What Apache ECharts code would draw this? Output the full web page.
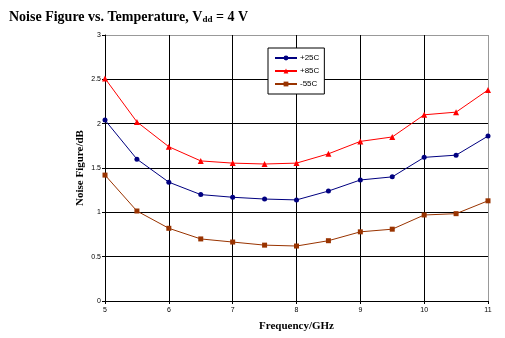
<!DOCTYPE html>
<html><head><meta charset="utf-8">
<script src="https://cdn.jsdelivr.net/npm/echarts@6/dist/echarts.min.js"></script>
<style>html,body{margin:0;padding:0;background:#fff}#c{width:505px;height:338px}</style>
</head><body><div id="c"></div>
<script>
const freq = [5, 5.5, 6, 6.5, 7, 7.5, 8, 8.5, 9, 9.5, 10, 10.5, 11];
const nf25 = [2.04, 1.60, 1.34, 1.20, 1.17, 1.15, 1.14, 1.24, 1.365, 1.40, 1.62, 1.645, 1.86];
const nf85 = [2.51, 2.02, 1.74, 1.58, 1.555, 1.545, 1.555, 1.66, 1.80, 1.85, 2.10, 2.13, 2.38];
const nfm55 = [1.42, 1.015, 0.82, 0.70, 0.665, 0.63, 0.62, 0.68, 0.78, 0.81, 0.97, 0.985, 1.13];
const seriesNames = ['+25C', '+85C', '-55C'];
const pair = arr => freq.map((f, i) => [f, arr[i]]);

const chart = echarts.init(document.getElementById('c'));
const gridColX = ['#000','#000','#000','#000','#000','#000','#999'];
const gridColY = ['#000','#000','#000','#000','#000','#000','#999'];
chart.setOption({
  animation: false,
  backgroundColor: '#fff',
  title: {
    text: '{a|Noise Figure vs. Temperature, V}{s|dd}{a| = 4 V}',
    left: 4, top: 5,
    textStyle: {
      rich: {
        a: {fontFamily: 'Liberation Serif', fontWeight: 'bold', fontSize: 14, color: '#000'},
        s: {fontFamily: 'Liberation Serif', fontWeight: 'bold', fontSize: 9, color: '#000', verticalAlign: 'bottom', padding: [5,0,0,0]}
      }
    }
  },
  legend: {
    orient: 'vertical',
    left: 268, top: 48,
    width: 54,
    padding: [6, 5, 6, 6],
    itemGap: 5,
    itemWidth: 22, itemHeight: 6,
    borderColor: '#000', borderWidth: 1, backgroundColor: '#fff',
    textStyle: {fontFamily: 'Liberation Sans', fontSize: 8, color: '#000', padding: [0,0,0,-2]},
    data: seriesNames
  },
  grid: {left: 105, right: 17, top: 35, bottom: 37, show: false},
  xAxis: {
    type: 'value', min: 5, max: 11, interval: 1,
    name: 'Frequency/GHz', nameLocation: 'middle', nameGap: 20,
    nameTextStyle: {fontFamily: 'Liberation Serif', fontWeight: 'bold', fontSize: 11, color: '#000'},
    axisLine: {show: true, lineStyle: {color: '#000', width: 1}},
    axisTick: {show: true, length: 3, lineStyle: {color: '#000'}},
    axisLabel: {fontFamily: 'Liberation Sans', fontSize: 7, color: '#000', margin: 6},
    splitLine: {show: true, lineStyle: {color: gridColX, width: 1}}
  },
  yAxis: {
    type: 'value', min: 0, max: 3, interval: 0.5,
    name: 'Noise Figure/dB', nameLocation: 'middle', nameGap: 19, nameRotate: 90,
    nameMoveOverlap: false,
    nameTextStyle: {fontFamily: 'Liberation Serif', fontWeight: 'bold', fontSize: 11, color: '#000'},
    axisLine: {show: true, lineStyle: {color: '#000', width: 1}},
    axisTick: {show: true, length: 3, lineStyle: {color: '#000'}},
    axisLabel: {fontFamily: 'Liberation Sans', fontSize: 7, color: '#000', margin: 4},
    splitLine: {show: true, lineStyle: {color: gridColY, width: 1}}
  },
  series: [
    {name: seriesNames[0], type: 'line', data: pair(nf25), symbol: 'circle', symbolSize: 5,
     color: '#000080', lineStyle: {width: 1}},
    {name: seriesNames[1], type: 'line', data: pair(nf85), symbol: 'triangle', symbolSize: 6,
     color: '#ff0000', lineStyle: {width: 1}},
    {name: seriesNames[2], type: 'line', data: pair(nfm55), symbol: 'rect', symbolSize: 5,
     color: '#993300', lineStyle: {width: 1}}
  ]
});
</script>
</body></html>
